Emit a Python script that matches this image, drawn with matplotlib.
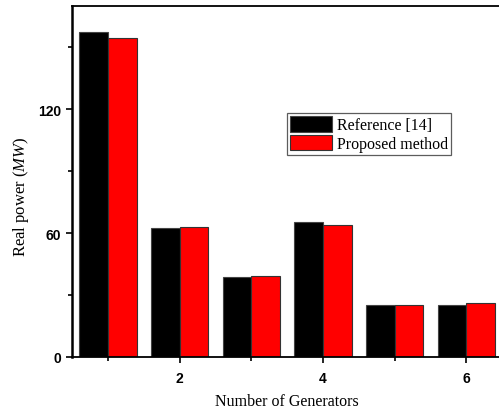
import numpy as np
import matplotlib
matplotlib.use("Agg")
import matplotlib.pyplot as plt
from matplotlib.ticker import MultipleLocator

plt.rcParams["mathtext.fontset"] = "custom"
plt.rcParams["mathtext.it"] = "Liberation Serif:italic"
plt.rcParams["mathtext.rm"] = "Liberation Serif"

#####################################

generators = [1, 2, 3, 4, 5, 6]
reference_14 = [157.6, 62.3, 38.6, 65.2, 25.0, 25.0]
proposed = [154.6, 62.8, 39.0, 64.0, 25.0, 26.1]

label_ref = "Reference [14]"
label_prop = "Proposed method"

cREF = "#000000"
cPROP = "#FF0000"

####################################

fig = plt.figure(figsize=(4.99, 4.14), dpi=100)
ax = fig.add_axes([0.1443, 0.1353, 0.862, 0.8478])

x = np.array(generators)
w = 0.4
ax.bar(x - w / 2, reference_14, width=w, color=cREF, edgecolor="#444444",
       linewidth=0.8, label=label_ref)
ax.bar(x + w / 2, proposed, width=w, color=cPROP, edgecolor="#333333",
       linewidth=0.8, label=label_prop)

ax.set_xlim(0.5, 6.5)
ax.set_ylim(0, 170)

ax.xaxis.set_major_locator(MultipleLocator(2))
ax.xaxis.set_minor_locator(MultipleLocator(1))
ax.yaxis.set_major_locator(MultipleLocator(60))
ax.yaxis.set_minor_locator(MultipleLocator(30))

ax.tick_params(axis="both", which="major", direction="out", length=4, width=1.2,
               labelsize=10)
ax.tick_params(axis="x", which="major", pad=6)
ax.tick_params(axis="y", which="major", pad=4)
ax.tick_params(axis="both", which="minor", direction="out", length=3, width=1.2)
for lbl in ax.get_xticklabels() + ax.get_yticklabels():
    lbl.set_fontfamily("Liberation Sans")
    lbl.set_fontweight("bold")

ax.spines["left"].set_linewidth(1.8)
ax.spines["bottom"].set_linewidth(1.3)
ax.spines["top"].set_linewidth(1.3)
ax.spines["right"].set_visible(False)

ax.set_xlabel("Number of Generators", fontfamily="Liberation Serif", fontsize=11.5)
ax.xaxis.set_label_coords(0.5, -0.104)
ax.set_ylabel("Real power ($\\mathit{MW}$)", fontfamily="Liberation Serif", fontsize=12)
ax.yaxis.set_label_coords(-0.095, 0.46)

leg = ax.legend(loc="upper left", bbox_to_anchor=(0.5, 0.695),
                prop={"family": "Liberation Serif", "size": 11.5},
                frameon=True, fancybox=False, edgecolor="#333333",
                handlelength=2.6, handleheight=1.1, handletextpad=0.3,
                labelspacing=0.1, borderpad=0.2, borderaxespad=0)
leg.get_frame().set_linewidth(0.9)

fig.savefig("out.png", dpi=100)
